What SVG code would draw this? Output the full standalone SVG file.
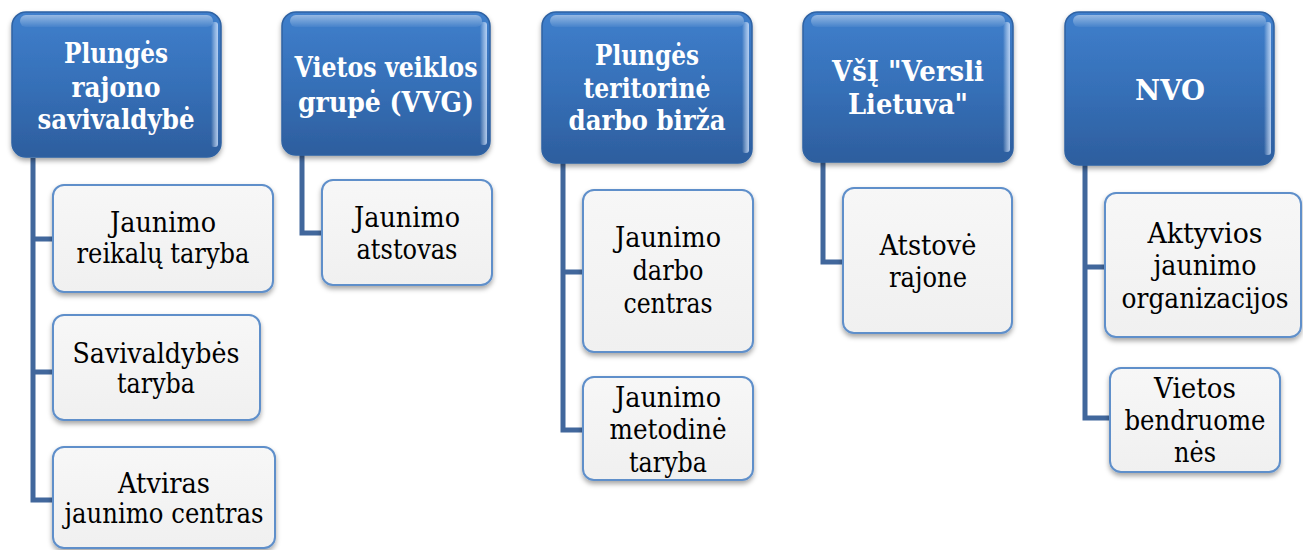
<svg xmlns="http://www.w3.org/2000/svg" width="1303" height="550" viewBox="0 0 1303 550">
<defs>
<linearGradient id="blue" x1="0" y1="0" x2="0" y2="1">
<stop offset="0" stop-color="#3f7fcc"/>
<stop offset="0.5" stop-color="#3670b8"/>
<stop offset="1" stop-color="#2d5e9e"/>
</linearGradient>
<linearGradient id="gloss" x1="0" y1="0" x2="0" y2="1">
<stop offset="0" stop-color="#ffffff" stop-opacity="0.45"/>
<stop offset="1" stop-color="#ffffff" stop-opacity="0.05"/>
</linearGradient>
<linearGradient id="edge" x1="0" y1="0" x2="1" y2="0">
<stop offset="0" stop-color="#ffffff" stop-opacity="0"/>
<stop offset="1" stop-color="#cfe3ff" stop-opacity="0.8"/>
</linearGradient>
<linearGradient id="light" x1="0" y1="0" x2="0" y2="1">
<stop offset="0" stop-color="#f7f7f7"/>
<stop offset="1" stop-color="#f0f0f0"/>
</linearGradient>
<filter id="sh" x="-10%" y="-10%" width="120%" height="130%">
<feDropShadow dx="0" dy="3" stdDeviation="2.5" flood-color="#000" flood-opacity="0.35"/>
</filter>
</defs>
<style>
.hdr{fill:url(#blue);stroke:#2f62a3;stroke-width:1.5;filter:url(#sh)}
.gl{fill:url(#gloss)}
.ed{fill:url(#edge)}
.ch{fill:url(#light);stroke:#5f8fca;stroke-width:2;filter:url(#sh)}
.ht{font-family:'DejaVu Serif',serif;font-weight:bold;font-size:28px;fill:#ffffff;text-anchor:middle}
.ct{font-family:'DejaVu Serif',serif;font-size:27px;fill:#000000;text-anchor:middle}
.con{fill:none;stroke:#41679c;stroke-width:5;stroke-linejoin:miter}
</style>
<g id="connectors">
<path class="con" d="M33 158 V500 H55 M33 239 H55 M33 372 H55"/>
<path class="con" d="M302 155 V233 H324"/>
<path class="con" d="M563 163 V430 H585 M563 272 H585"/>
<path class="con" d="M823 162 V262 H845"/>
<path class="con" d="M1085 165 V418 H1110 M1085 267 H1107"/>
</g>
<g id="h1">
<rect class="hdr" x="12" y="12" width="209" height="145" rx="14"/>
<rect class="gl" x="20" y="15" width="193" height="12" rx="6"/>
<rect class="ed" x="211" y="22" width="7" height="125" rx="3"/>
<text class="ht" x="116" y="63" textLength="104" lengthAdjust="spacingAndGlyphs">Plungės</text>
<text class="ht" x="116" y="97" textLength="89" lengthAdjust="spacingAndGlyphs">rajono</text>
<text class="ht" x="116" y="129" textLength="157" lengthAdjust="spacingAndGlyphs">savivaldybė</text>
</g>
<g id="h2">
<rect class="hdr" x="282" y="12" width="208" height="143" rx="14"/>
<rect class="gl" x="290" y="15" width="192" height="12" rx="6"/>
<rect class="ed" x="480" y="22" width="7" height="123" rx="3"/>
<text class="ht" x="386" y="77" textLength="183" lengthAdjust="spacingAndGlyphs">Vietos veiklos</text>
<text class="ht" x="386" y="112" textLength="176" lengthAdjust="spacingAndGlyphs">grupė (VVG)</text>
</g>
<g id="h3">
<rect class="hdr" x="542" y="12" width="210" height="151" rx="14"/>
<rect class="gl" x="550" y="15" width="194" height="12" rx="6"/>
<rect class="ed" x="742" y="22" width="7" height="131" rx="3"/>
<text class="ht" x="647" y="65" textLength="104" lengthAdjust="spacingAndGlyphs">Plungės</text>
<text class="ht" x="647" y="98" textLength="127" lengthAdjust="spacingAndGlyphs">teritorinė</text>
<text class="ht" x="647" y="130" textLength="157" lengthAdjust="spacingAndGlyphs">darbo birža</text>
</g>
<g id="h4">
<rect class="hdr" x="803" y="12" width="210" height="150" rx="14"/>
<rect class="gl" x="811" y="15" width="194" height="12" rx="6"/>
<rect class="ed" x="1003" y="22" width="7" height="130" rx="3"/>
<text class="ht" x="908" y="81" textLength="152" lengthAdjust="spacingAndGlyphs">VšĮ "Versli</text>
<text class="ht" x="908" y="114" textLength="120" lengthAdjust="spacingAndGlyphs">Lietuva"</text>
</g>
<g id="h5">
<rect class="hdr" x="1065" y="12" width="209" height="153" rx="14"/>
<rect class="gl" x="1073" y="15" width="193" height="12" rx="6"/>
<rect class="ed" x="1264" y="22" width="7" height="133" rx="3"/>
<text class="ht" x="1170" y="100" textLength="70" lengthAdjust="spacingAndGlyphs">NVO</text>
</g>
<g id="c1a">
<rect class="ch" x="53" y="185" width="220" height="107" rx="11"/>
<text class="ct" x="163" y="232" textLength="106" lengthAdjust="spacingAndGlyphs">Jaunimo</text>
<text class="ct" x="163" y="263" textLength="173" lengthAdjust="spacingAndGlyphs">reikalų taryba</text>
</g>
<g id="c1b">
<rect class="ch" x="53" y="315" width="207" height="105" rx="11"/>
<text class="ct" x="156" y="363" textLength="167" lengthAdjust="spacingAndGlyphs">Savivaldybės</text>
<text class="ct" x="156" y="393" textLength="78" lengthAdjust="spacingAndGlyphs">taryba</text>
</g>
<g id="c1c">
<rect class="ch" x="53" y="447" width="222" height="101" rx="11"/>
<text class="ct" x="164" y="493" textLength="92" lengthAdjust="spacingAndGlyphs">Atviras</text>
<text class="ct" x="164" y="523" textLength="199" lengthAdjust="spacingAndGlyphs">jaunimo centras</text>
</g>
<g id="c2a">
<rect class="ch" x="322" y="180" width="170" height="105" rx="11"/>
<text class="ct" x="407" y="227" textLength="106" lengthAdjust="spacingAndGlyphs">Jaunimo</text>
<text class="ct" x="407" y="259" textLength="101" lengthAdjust="spacingAndGlyphs">atstovas</text>
</g>
<g id="c3a">
<rect class="ch" x="583" y="190" width="170" height="162" rx="11"/>
<text class="ct" x="668" y="247" textLength="106" lengthAdjust="spacingAndGlyphs">Jaunimo</text>
<text class="ct" x="668" y="280" textLength="71" lengthAdjust="spacingAndGlyphs">darbo</text>
<text class="ct" x="668" y="313" textLength="89" lengthAdjust="spacingAndGlyphs">centras</text>
</g>
<g id="c3b">
<rect class="ch" x="583" y="377" width="170" height="103" rx="11"/>
<text class="ct" x="668" y="407" textLength="106" lengthAdjust="spacingAndGlyphs">Jaunimo</text>
<text class="ct" x="668" y="439" textLength="117" lengthAdjust="spacingAndGlyphs">metodinė</text>
<text class="ct" x="668" y="472" textLength="78" lengthAdjust="spacingAndGlyphs">taryba</text>
</g>
<g id="c4a">
<rect class="ch" x="843" y="188" width="169" height="145" rx="11"/>
<text class="ct" x="928" y="255" textLength="97" lengthAdjust="spacingAndGlyphs">Atstovė</text>
<text class="ct" x="928" y="287" textLength="78" lengthAdjust="spacingAndGlyphs">rajone</text>
</g>
<g id="c5a">
<rect class="ch" x="1105" y="193" width="196" height="144" rx="11"/>
<text class="ct" x="1205" y="243" textLength="115" lengthAdjust="spacingAndGlyphs">Aktyvios</text>
<text class="ct" x="1205" y="275" textLength="103" lengthAdjust="spacingAndGlyphs">jaunimo</text>
<text class="ct" x="1205" y="308" textLength="167" lengthAdjust="spacingAndGlyphs">organizacijos</text>
</g>
<g id="c5b">
<rect class="ch" x="1110" y="368" width="170" height="104" rx="11"/>
<text class="ct" x="1195" y="398" textLength="82" lengthAdjust="spacingAndGlyphs">Vietos</text>
<text class="ct" x="1195" y="430" textLength="141" lengthAdjust="spacingAndGlyphs">bendruome</text>
<text class="ct" x="1195" y="462" textLength="42" lengthAdjust="spacingAndGlyphs">nės</text>
</g>
</svg>
